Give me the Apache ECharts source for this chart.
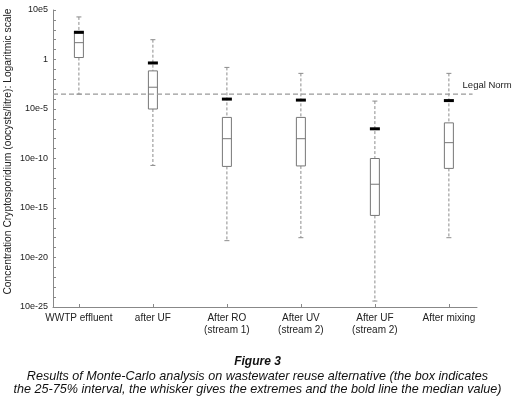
<!DOCTYPE html>
<html>
<head>
<meta charset="utf-8">
<script src="https://cdn.jsdelivr.net/npm/echarts@6/dist/echarts.min.js"></script>
<style>
  html, body { margin: 0; padding: 0; background: #fff; }
  #main { width: 515px; height: 399px; }
</style>
</head>
<body>
<div id="main"></div>
<script>
// stages along the treatment train
var categories = ['WWTP effluent', 'after UF', 'After RO\n(stream 1)', 'After UV\n(stream 2)', 'After UF\n(stream 2)', 'After mixing'];
// everything below is log10 of the concentration (oocysts/litre)
var whiskerMax = [4.3, 2.0, -0.8, -1.4, -4.2, -1.4];
var boxHigh    = [2.65, -1.15, -5.85, -5.85, -10.0, -6.4];
var boxMid     = [1.7, -2.8, -8.0, -8.0, -12.6, -8.4];
var boxLow     = [0.2, -5.0, -10.8, -10.75, -15.75, -11.0];
var whiskerMin = [-3.5, -10.7, -18.3, -18.0, -24.4, -18.0];
var boldLine   = [2.75, -0.35, -4.0, -4.1, -7.0, -4.15];
var legalNorm  = -3.5;

var font = 'Liberation Sans, Arial, sans-serif';

var boxData = categories.map(function (c, i) {
  return [i, whiskerMax[i], boxHigh[i], boxMid[i], boxLow[i], whiskerMin[i], boldLine[i]];
});

function renderBox(params, api) {
  var x = api.value(0);
  function pt(v) { return api.coord([x, v]); }
  var top = pt(api.value(1)), q3 = pt(api.value(2)), med = pt(api.value(3));
  var q1 = pt(api.value(4)), bot = pt(api.value(5)), bold = pt(api.value(6));
  var cx = top[0];
  var dash = { stroke: '#8c8c8c', lineWidth: 1, lineDash: [3, 2] };
  var solid = { stroke: '#8c8c8c', lineWidth: 1 };
  return {
    type: 'group',
    children: [
      { type: 'line', shape: { x1: cx, y1: top[1], x2: cx, y2: q3[1] }, style: dash },
      { type: 'line', shape: { x1: cx, y1: q1[1], x2: cx, y2: bot[1] }, style: dash },
      { type: 'line', shape: { x1: cx - 2.5, y1: top[1], x2: cx + 2.5, y2: top[1] }, style: solid },
      { type: 'line', shape: { x1: cx - 2.5, y1: bot[1], x2: cx + 2.5, y2: bot[1] }, style: solid },
      { type: 'rect', shape: { x: cx - 4.5, y: q3[1], width: 9, height: q1[1] - q3[1] },
        style: { fill: '#fff', stroke: '#777', lineWidth: 1 } },
      { type: 'line', shape: { x1: cx - 4.5, y1: med[1], x2: cx + 4.5, y2: med[1] }, style: { stroke: '#777', lineWidth: 1 } },
      { type: 'rect', shape: { x: cx - 5, y: bold[1] - 1.5, width: 10, height: 3 }, style: { fill: '#000' } }
    ]
  };
}

var myChart = echarts.init(document.getElementById('main'));
var option = {
  animation: false,
  backgroundColor: '#fff',
  title: {
    text: 'Figure 3',
    subtext: 'Results of Monte-Carlo analysis on wastewater reuse alternative (the box indicates\nthe 25-75% interval, the whisker gives the extremes and the bold line the median value)',
    left: 'center',
    top: 351,
    itemGap: 2,
    textStyle: { fontFamily: font, fontSize: 12, fontStyle: 'italic', fontWeight: 'bold', color: '#111' },
    subtextStyle: { fontFamily: font, fontSize: 12.6, fontStyle: 'italic', color: '#111', lineHeight: 13 }
  },
  grid: { left: 53, right: 38, top: 10, bottom: 92, outerBoundsMode: 'none', containLabel: false },
  xAxis: {
    type: 'value',
    min: -0.35,
    max: 5.38,
    splitLine: { show: false },
    axisLine: { onZero: false, lineStyle: { color: '#888' } },
    axisTick: { inside: true, length: 3, lineStyle: { color: '#888' }, customValues: [0, 1, 2, 3, 4, 5] },
    axisLabel: {
      customValues: [0, 1, 2, 3, 4, 5],
      formatter: function (v) { return categories[Math.round(v)]; },
      fontFamily: font, fontSize: 10, color: '#222', lineHeight: 12, margin: 5
    }
  },
  yAxis: {
    type: 'value',
    min: -25,
    max: 5,
    interval: 5,
    name: 'Concentration Cryptosporidium (oocysts/litre): Logaritmic scale',
    nameLocation: 'middle',
    nameGap: 40,
    nameMoveOverlap: false,
    nameTextStyle: { fontFamily: font, fontSize: 10.3, color: '#222', padding: [0, 0, 0, 14] },
    splitLine: { show: false },
    axisLine: { show: true, onZero: false, lineStyle: { color: '#888' } },
    axisTick: { show: true, inside: true, length: 3, lineStyle: { color: '#888' } },
    minorTick: { show: true, splitNumber: 5, length: 3, lineStyle: { color: '#888' } },
    axisLabel: {
      formatter: function (v) { return v === 0 ? '1' : '10e' + v; },
      fontFamily: font, fontSize: 9, color: '#222', margin: 5
    }
  },
  series: [
    {
      type: 'line',
      data: [[-0.35, legalNorm], [5.32, legalNorm]],
      symbol: 'none',
      silent: true,
      lineStyle: { color: '#999', width: 1.2, type: [5, 3] },
      endLabel: {
        show: true,
        formatter: 'Legal Norm',
        offset: [-18, -9],
        fontFamily: font, fontSize: 9.5, color: '#222'
      }
    },
    {
      type: 'custom',
      renderItem: renderBox,
      encode: { x: 0, y: [1, 2, 3, 4, 5, 6] },
      data: boxData
    }
  ]
};
myChart.setOption(option);
</script>
</body>
</html>
